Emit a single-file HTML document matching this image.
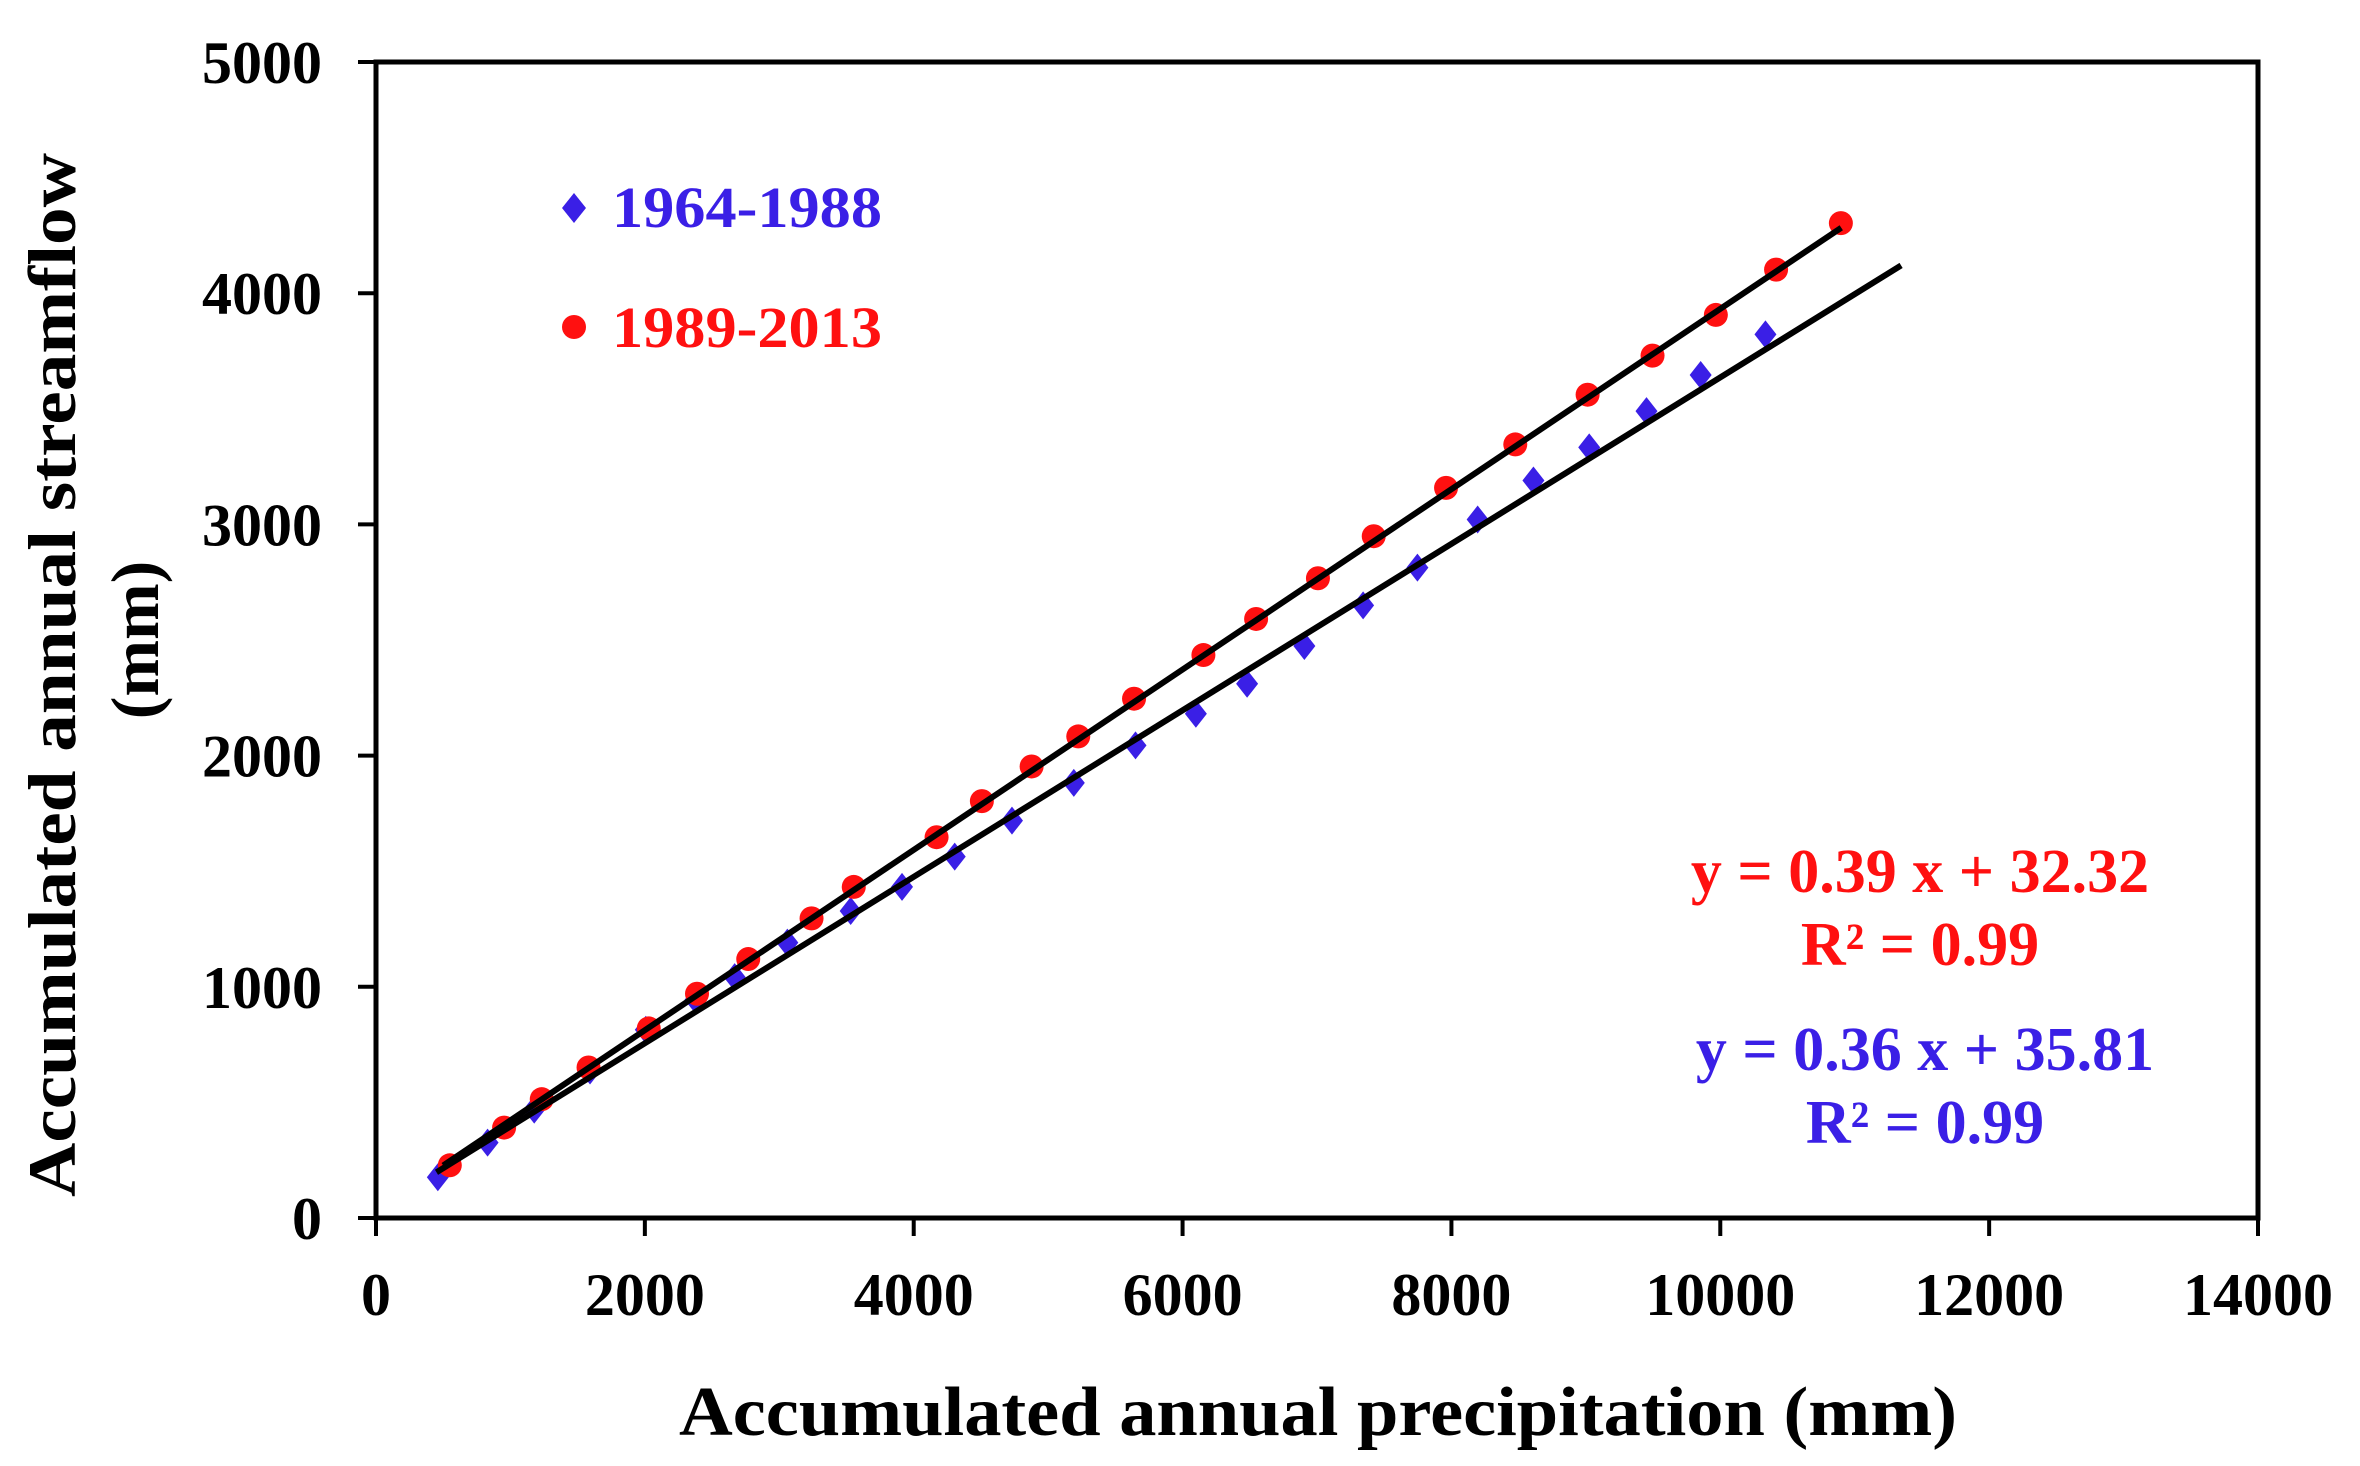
<!DOCTYPE html>
<html><head><meta charset="utf-8"><style>
html,body{margin:0;padding:0;background:#fff;}
svg{display:block;font-family:"Liberation Serif",serif;font-weight:bold;}
</style></head><body>
<svg id="chart" width="2360" height="1466" viewBox="0 0 2360 1466" xmlns="http://www.w3.org/2000/svg">
<rect width="2360" height="1466" fill="#fff"/>
<g id="plot"></g>
</svg>
<script>
const xTicks = [0,2000,4000,6000,8000,10000,12000,14000];
const yTicks = [0,1000,2000,3000,4000,5000];
const redX = [549,953,1233,1581,2029,2388,2769,3240,3554,4170,4507,4877,5224,5639,6155,6547,7007,7422,7960,8475,9013,9496,9967,10415,10897];
const redY = [228,391,514,651,820,970,1120,1296,1432,1647,1803,1953,2083,2246,2435,2591,2767,2949,3158,3346,3561,3730,3906,4102,4303];
const blueX = [460,830,1177,1592,2007,2377,2668,3060,3531,3913,4305,4731,5191,5650,6099,6480,6906,7343,7747,8195,8610,9025,9451,9854,10336];
const blueY = [176,326,469,638,814,944,1042,1191,1328,1432,1563,1719,1882,2044,2181,2311,2474,2650,2813,3021,3190,3333,3490,3646,3822];
const redFit = [0.39, 32.32];
const blueFit = [0.36, 35.81];
const redFitRange = [500, 10900];
const blueFitRange = [450, 11345];

const L=376,R=2258,T=62,B=1218;
const X = v => L + (v-0)/(14000-0)*(R-L);
const Y = v => B - (v-0)/(5000-0)*(B-T);
const NS="http://www.w3.org/2000/svg";
const g=document.getElementById('plot');
function mk(tag,attrs,parent){const e=document.createElementNS(NS,tag);for(const k in attrs)e.setAttribute(k,attrs[k]);(parent||g).appendChild(e);return e;}

let fr=mk('rect',{x:L,y:T,width:R-L,height:B-T,fill:'none',stroke:'#000','stroke-width':5});



xTicks.forEach(v=>{
  let t=mk('line',{x1:X(v),x2:X(v),y1:B,y2:B+18,stroke:'#000','stroke-width':4});
  
  
  let s=mk('text',{x:X(v),y:1315,'text-anchor':'middle','font-size':60});
  s.textContent=v;
  
  
});
yTicks.forEach(v=>{
  let t=mk('line',{x1:L-18,x2:L,y1:Y(v),y2:Y(v),stroke:'#000','stroke-width':4});
  
  
  let s=mk('text',{x:322,y:Y(v)+21,'text-anchor':'end','font-size':60});
  s.textContent=v;
  
  
});

function fitLine(f,rng,name){
  let l=mk('line',{x1:X(rng[0]),y1:Y(f[0]*rng[0]+f[1]),x2:X(rng[1]),y2:Y(f[0]*rng[1]+f[1]),stroke:'#000','stroke-width':6});
  
  
}
blueX.forEach((x,i)=>{
  const cx=X(x),cy=Y(blueY[i]);
  let p=mk('polygon',{points:`${cx},${cy-14} ${cx+11},${cy} ${cx},${cy+14} ${cx-11},${cy}`,fill:'#3a1fe6'});
  
  
});
redX.forEach((x,i)=>{
  let c=mk('circle',{cx:X(x),cy:Y(redY[i]),r:12,fill:'#ff1010'});
  
  
});
fitLine(redFit,redFitRange,'trendline-1989-2013');
fitLine(blueFit,blueFitRange,'trendline-1964-1988');

let d=mk('polygon',{points:'574,193 586,208 574,223 562,208',fill:'#3a1fe6'});


let lt=mk('text',{x:612,y:227,'font-size':58,fill:'#3a1fe6',textLength:270,lengthAdjust:'spacingAndGlyphs'});lt.textContent='1964-1988';


let dc=mk('circle',{cx:574,cy:327,r:12,fill:'#ff1010'});


let lt2=mk('text',{x:612,y:347,'font-size':58,fill:'#ff1010',textLength:270,lengthAdjust:'spacingAndGlyphs'});lt2.textContent='1989-2013';



function eq(txt,x,y,col,name){
  let t=mk('text',{x:x,y:y,'text-anchor':'middle','font-size':62,fill:col});t.textContent=txt;
  
  
}
eq('y = 0.39 x + 32.32',1920,892,'#ff1010','equation-1989-2013');
eq('R² = 0.99',1920,965,'#ff1010','r-squared-1989-2013');
eq('y = 0.36 x + 35.81',1925,1070,'#3a1fe6','equation-1964-1988');
eq('R² = 0.99',1925,1143,'#3a1fe6','r-squared-1964-1988');

let xt=mk('text',{x:1318,y:1435,'text-anchor':'middle','font-size':70,textLength:1278,lengthAdjust:'spacingAndGlyphs'});xt.textContent='Accumulated annual precipitation (mm)';


let yt=mk('text',{x:0,y:0,'text-anchor':'middle','font-size':68,textLength:1044,lengthAdjust:'spacingAndGlyphs',transform:'translate(75,675) rotate(-90)'});yt.textContent='Accumulated annual streamflow';


let yt2=mk('text',{x:0,y:0,'text-anchor':'middle','font-size':68,transform:'translate(158,640) rotate(-90)'});yt2.textContent='(mm)';


</script>
</body></html>
